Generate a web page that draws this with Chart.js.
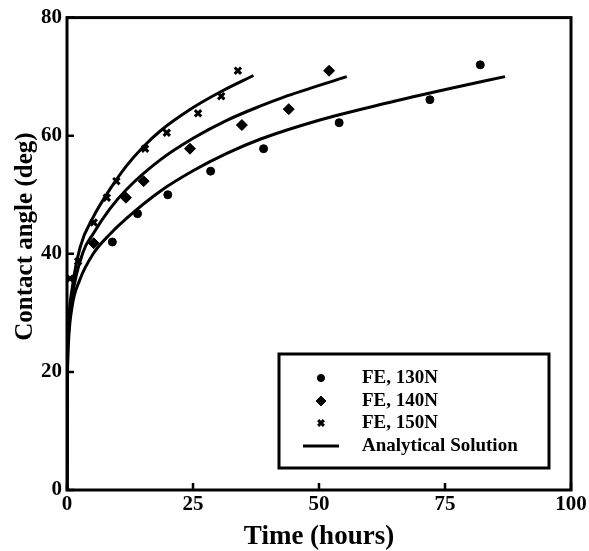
<!DOCTYPE html>
<html>
<head>
<meta charset="utf-8">
<script src="https://cdn.jsdelivr.net/npm/chart.js@4.4.1/dist/chart.umd.min.js"></script>
<style>
  html, body { margin: 0; padding: 0; background: #fff; }
  #wrap { width: 589px; height: 551px; }
</style>
</head>
<body>
<div id="wrap"><canvas id="angleChart" width="589" height="551"></canvas></div>
<script>
const t130 = [9, 14, 20, 28.5, 39, 54, 72, 82];
const a130 = [42.0, 46.8, 50.0, 54.0, 57.8, 62.2, 66.1, 72.0];
const t140 = [5.3, 11.7, 15.2, 24.4, 34.7, 44.0, 52.0];
const a140 = [41.8, 49.5, 52.3, 57.8, 61.8, 64.5, 71.0];
const t150 = [0.6, 2.2, 5.3, 7.9, 9.8, 15.5, 19.8, 26.0, 30.6, 33.9];
const a150 = [35.8, 38.7, 45.3, 49.5, 52.3, 57.8, 60.5, 63.8, 66.7, 71.0];

// analytical solution curves
const curveT130 = [0, 0.05, 0.3, 1, 2.5, 5.2, 8.5, 11.8, 18.5, 25.1, 31.7, 38.3, 49.5, 62.8, 76, 86.9];
const curveA130 = [0, 15, 25, 31, 35.5, 40.0, 43.3, 46.0, 50.6, 54.1, 57.0, 59.4, 62.5, 65.4, 68.0, 70.0];
const curveT140 = [0, 0.05, 0.3, 1, 3.2, 5.2, 8.5, 11.8, 18.5, 25.1, 31.7, 38.3, 42.9, 55.5];
const curveA140 = [0, 16, 26.5, 32.5, 40.3, 43.4, 47.6, 50.9, 55.9, 59.6, 62.6, 65.0, 66.5, 70.0];
const curveT150 = [0, 0.05, 0.3, 1, 2.6, 5.2, 8.5, 11.8, 15.1, 18.5, 25.1, 30.4, 37.0];
const curveA150 = [0, 17, 28, 34, 41.1, 46.2, 50.9, 54.9, 58.1, 60.8, 64.8, 67.4, 70.2];

const xTicks = [0, 25, 50, 75, 100];
const yTicks = [0, 20, 40, 60, 80];
const xTitle = 'Time (hours)';
const yTitle = 'Contact angle (deg)';
const pointLabels = ['FE, 130N', 'FE, 140N', 'FE, 150N'];
const lineLabel = 'Analytical Solution';

const FONT = "'Liberation Serif', 'Times New Roman', serif";

const toXY = (xs, ys) => xs.map((x, i) => ({ x: x, y: ys[i] }));

function pointSet(label, xs, ys, style, radius, width) {
  return {
    type: 'scatter', label: label, data: toXY(xs, ys),
    pointStyle: style, pointRadius: radius, pointBorderWidth: width,
    backgroundColor: '#000', borderColor: '#000', showLine: false
  };
}

function curveSet(xs, ys) {
  return {
    type: 'line', label: lineLabel, data: toXY(xs, ys),
    borderColor: '#000', borderWidth: 3, pointRadius: 0,
    cubicInterpolationMode: 'monotone', fill: false
  };
}

// frame, inward tick marks, y title and the boxed legend
const framePlugin = {
  id: 'frame',
  afterDatasetsDraw(chart) {
    const { ctx, chartArea: ca, scales } = chart;
    ctx.save();
    ctx.strokeStyle = '#000';
    ctx.lineWidth = 3;
    ctx.strokeRect(ca.left, ca.top, ca.right - ca.left, ca.bottom - ca.top);

    ctx.lineWidth = 2.5;
    ctx.beginPath();
    xTicks.forEach(v => {
      const px = scales.x.getPixelForValue(v);
      ctx.moveTo(px, ca.bottom);
      ctx.lineTo(px, ca.bottom - 7);
    });
    yTicks.forEach(v => {
      const py = scales.y.getPixelForValue(v);
      ctx.moveTo(ca.left, py);
      ctx.lineTo(ca.left + 7, py);
    });
    ctx.stroke();

    // y axis title, sits a bit above the middle in the original
    ctx.fillStyle = '#000';
    ctx.font = 'bold 25px ' + FONT;
    ctx.textAlign = 'center';
    ctx.textBaseline = 'middle';
    ctx.save();
    ctx.translate(26, ca.top + 219);
    ctx.rotate(-Math.PI / 2);
    ctx.fillText(yTitle, 0, 0);
    ctx.restore();

    // legend box
    const bx = ca.right - 292, by = ca.bottom - 136, bw = 270, bh = 114;
    ctx.fillStyle = '#fff';
    ctx.fillRect(bx, by, bw, bh);
    ctx.lineWidth = 3;
    ctx.strokeRect(bx, by, bw, bh);

    const rows = [by + 24, by + 47, by + 69, by + 92];
    const markX = bx + 42, textX = bx + 83;
    ctx.font = 'bold 19px ' + FONT;
    ctx.textBaseline = 'middle';
    ctx.textAlign = 'left';
    ctx.fillStyle = '#000';
    for (let i = 0; i < 3; i++) {
      const ds = chart.data.datasets[i];
      ctx.lineWidth = ds.pointBorderWidth;
      Chart.helpers.drawPoint(ctx, {
        pointStyle: ds.pointStyle, radius: ds.pointRadius * 0.9,
        rotation: 0, borderWidth: ds.pointBorderWidth
      }, markX, rows[i]);
      ctx.fillText(ds.label, textX, rows[i]);
    }
    ctx.lineWidth = 3;
    ctx.beginPath();
    ctx.moveTo(markX - 18, rows[3]);
    ctx.lineTo(markX + 18, rows[3]);
    ctx.stroke();
    ctx.fillText(lineLabel, textX, rows[3]);
    ctx.restore();
  }
};

const chart = new Chart(document.getElementById('angleChart').getContext('2d'), {
  data: {
    datasets: [
      pointSet(pointLabels[0], t130, a130, 'circle', 4, 1),
      pointSet(pointLabels[1], t140, a140, 'rectRot', 5.5, 1),
      pointSet(pointLabels[2], t150, a150, 'crossRot', 4.5, 3),
      curveSet(curveT130, curveA130),
      curveSet(curveT140, curveA140),
      curveSet(curveT150, curveA150)
    ]
  },
  options: {
    responsive: false,
    animation: false,
    layout: { padding: { top: 10, right: 18, bottom: 0, left: 0 } },
    scales: {
      x: {
        type: 'linear', min: 0, max: 100,
        afterBuildTicks: s => { s.ticks = xTicks.map(v => ({ value: v })); },
        afterFit: s => { s.height = 61; },
        grid: { display: false, drawTicks: false },
        border: { display: false },
        ticks: { color: '#000', padding: 2, font: { family: FONT, size: 21, weight: 'bold' } },
        title: {
          display: true, text: xTitle, color: '#000',
          font: { family: FONT, size: 27, weight: 'bold', lineHeight: 1.05 }, padding: 0
        }
      },
      y: {
        type: 'linear', min: 0, max: 80,
        afterBuildTicks: s => { s.ticks = yTicks.map(v => ({ value: v })); },
        afterFit: s => { s.width = 67; },
        grid: { display: false, drawTicks: false },
        border: { display: false },
        ticks: { color: '#000', padding: 5, font: { family: FONT, size: 21, weight: 'bold' } },
        title: { display: false }
      }
    },
    plugins: {
      legend: { display: false },
      tooltip: { enabled: false }
    }
  },
  plugins: [framePlugin]
});
</script>
</body>
</html>
